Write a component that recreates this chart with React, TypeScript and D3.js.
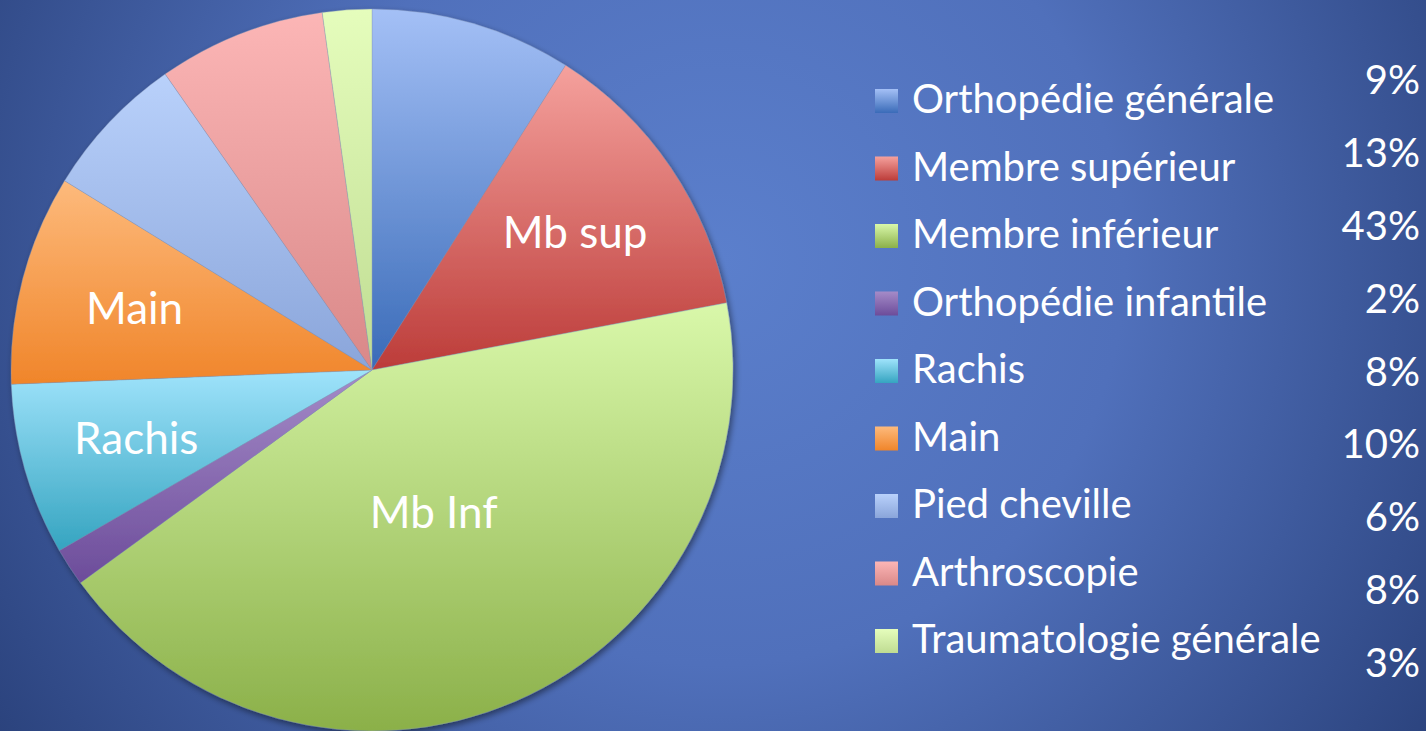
import React from "react";
import * as d3 from "d3";

// chart data
const categories = [
  "Orthopédie générale",
  "Membre supérieur",
  "Membre inférieur",
  "Orthopédie infantile",
  "Rachis",
  "Main",
  "Pied cheville",
  "Arthroscopie",
  "Traumatologie générale",
];
const shares = [9, 13, 42.9, 1.7, 7.7, 9.4, 6.5, 7.5, 2.2];
const pctLabels = ["9%", "13%", "43%", "2%", "8%", "10%", "6%", "8%", "3%"];
const sliceLabels = ["", "Mb sup", "Mb Inf", "", "Rachis", "Main", "", "", ""];

// gradient colours per slice (top -> bottom)
const topColors = ["#a4c0f6", "#f5a19d", "#d9f8aa", "#a58bc8", "#9fe3fb", "#fdba7c", "#b9d1fb", "#fcb6b6", "#e5fdbc"];
const bottomColors = ["#3a6bb8", "#bc3c39", "#8bb049", "#6c4c9a", "#35a4c0", "#f0852a", "#8aa5da", "#d98888", "#bfdc92"];

const W = 1426;
const H = 731;
const FONT = "Lato, 'Open Sans', sans-serif";

const App = () => {
  const cx = 372;
  const cy = 370;
  const radius = 361;

  const pie = d3
    .pie<number>()
    .value((d) => d)
    .sort(null);
  const arcs = pie(shares);
  const arc = d3.arc<d3.PieArcDatum<number>>().innerRadius(0).outerRadius(radius);
  const labelArc = d3.arc<d3.PieArcDatum<number>>().innerRadius(radius * 0.68).outerRadius(radius * 0.68);
  const bigArc = d3.arc<d3.PieArcDatum<number>>().innerRadius(radius * 0.43).outerRadius(radius * 0.43);

  // legend layout
  const legendY = d3.scaleLinear().domain([0, categories.length - 1]).range([113, 653]);
  const pctY = d3.scaleLinear().domain([0, pctLabels.length - 1]).range([94, 677]);

  return (
    <svg width={W} height={H} style={{ position: "absolute", left: 0, top: 0, display: "block" }}>
      <defs>
        <radialGradient id="bg" cx="720" cy="260" r="900" gradientUnits="userSpaceOnUse">
          <stop offset="0" stopColor="#5b7fcc" />
          <stop offset="0.45" stopColor="#5070bb" />
          <stop offset="1" stopColor="#283f78" />
        </radialGradient>
        {categories.map((c, i) => (
          <linearGradient key={c} id={`g${i}`} x1="0" y1="0" x2="0" y2="1">
            <stop offset="0" stopColor={topColors[i]} />
            <stop offset="1" stopColor={bottomColors[i]} />
          </linearGradient>
        ))}
        <filter id="shadow" x="-10%" y="-10%" width="120%" height="120%">
          <feDropShadow dx="2" dy="3" stdDeviation="3" floodColor="#000" floodOpacity="0.45" />
        </filter>
      </defs>
      <rect width={W} height={H} fill="url(#bg)" />

      <g transform={`translate(${cx},${cy})`} filter="url(#shadow)">
        {arcs.map((a, i) => (
          <path
            key={categories[i]}
            d={arc(a) || ""}
            fill={`url(#g${i})`}
            stroke="#8a9ab8"
            strokeOpacity={0.6}
            strokeWidth={0.6}
          />
        ))}
      </g>

      <g transform={`translate(${cx},${cy})`}>
        {arcs.map((a, i) => {
          if (!sliceLabels[i]) return null;
          const big = a.data > 30;
          const [x, y] = big ? bigArc.centroid(a) : labelArc.centroid(a);
          return (
            <text
              key={sliceLabels[i]}
              x={x}
              y={y}
              dy="0.36em"
              textAnchor="middle"
              fill="#fff"
              fontFamily={FONT}
              fontSize={44}
            >
              {sliceLabels[i]}
            </text>
          );
        })}
      </g>

      <g>
        {categories.map((c, i) => (
          <g key={c}>
            <rect x={875} y={legendY(i) - 24} width={23} height={24} fill={`url(#g${i})`} />
            <text x={912} y={legendY(i)} fill="#fff" fontFamily={FONT} fontSize={40}>
              {c}
            </text>
          </g>
        ))}
        {pctLabels.map((p, i) => (
          <text
            key={i}
            x={1420}
            y={pctY(i)}
            textAnchor="end"
            fill="#fff"
            fontFamily={FONT}
            fontSize={40}
          >
            {p}
          </text>
        ))}
      </g>
    </svg>
  );
};

export default App;
